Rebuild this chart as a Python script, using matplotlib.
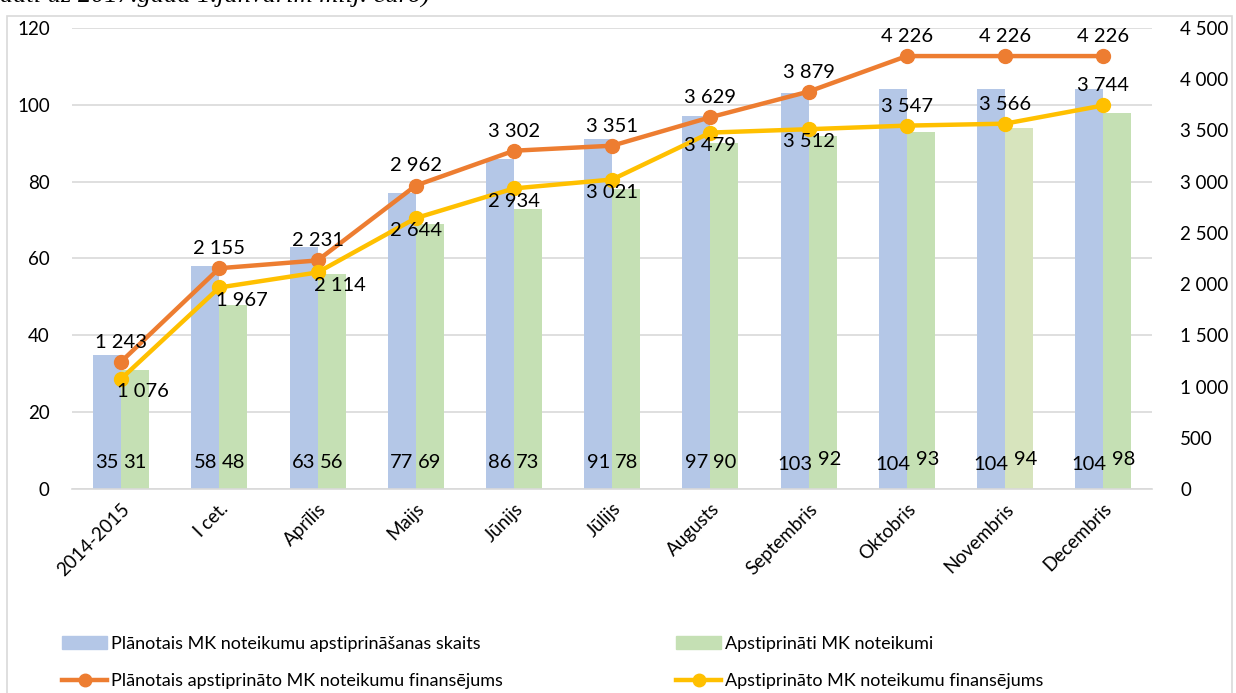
import matplotlib.pyplot as plt
import numpy as np
from matplotlib.patches import Rectangle
from matplotlib.lines import Line2D
from matplotlib.patches import Patch

plt.rcParams['font.family'] = ['Lato', 'DejaVu Sans']

categories = ['2014-2015', 'I cet.', 'Aprīlis', 'Maijs', 'Jūnijs', 'Jūlijs',
              'Augusts', 'Septembris', 'Oktobris', 'Novembris', 'Decembris']
planned_count = [35, 58, 63, 77, 86, 91, 97, 103, 104, 104, 104]
approved_count = [31, 48, 56, 69, 73, 78, 90, 92, 93, 94, 98]
planned_fin = [1243, 2155, 2231, 2962, 3302, 3351, 3629, 3879, 4226, 4226, 4226]
approved_fin = [1076, 1967, 2114, 2644, 2934, 3021, 3479, 3512, 3547, 3566, 3744]

blue = '#b4c7e7'
green = '#c5e0b4'
orange = '#ed7d31'
yellow = '#ffc000'


def fmt(v):
    return '{:,}'.format(int(v)).replace(',', ' ')


fig = plt.figure(figsize=(12.36, 6.93), dpi=100)
ax = fig.add_axes([0.0583, 0.2944, 0.874, 0.6652])
ax2 = ax.twinx()

# outer frame and the cut-off caption above it
fig.patches.append(Rectangle((0.006, -0.01), 0.991, 0.987, transform=fig.transFigure,
                             fill=False, edgecolor='#d9d9d9', linewidth=1.2))
fig.text(0.0, 1.005, 'dati uz 2017.gada 1.janvārim milj. euro)', fontsize=19,
         family='Liberation Serif', style='italic', va='center', ha='left')

x = np.arange(len(categories))
w = 0.285
green_cols = [green] * len(categories)
green_cols[9] = '#d7e4bd'
ax.bar(x - w / 2, planned_count, w, color=blue, zorder=2)
ax.bar(x + w / 2, approved_count, w, color=green_cols, zorder=2)

for i in range(len(categories)):
    big = planned_count[i] >= 100
    ax.text(x[i] - w / 2, 6.3 if big else 6.8, str(planned_count[i]),
            ha='center', va='center', fontsize=14.5)
    ax.text(x[i] + w / 2 + (0.07 if big else 0), 7.6 if big else 6.8, str(approved_count[i]),
            ha='center', va='center', fontsize=14.5)

ax.set_ylim(0, 120)
ax.set_yticks(range(0, 121, 20))
ax.set_xlim(-0.5, len(categories) - 0.5)
ax.set_xticks(x)
ax.set_xticklabels(categories, rotation=45, ha='right', rotation_mode='anchor', fontsize=13)
ax.grid(axis='y', color='#d9d9d9', linewidth=1.2, zorder=0)
ax.set_axisbelow(True)
for s in ['top', 'right', 'left']:
    ax.spines[s].set_visible(False)
ax.spines['bottom'].set_color('#d9d9d9')
ax.spines['bottom'].set_linewidth(1.2)
ax.tick_params(axis='both', length=0, labelsize=13.5)
ax.tick_params(axis='y', pad=16)
ax.tick_params(axis='x', pad=8)

ax2.plot(x, planned_fin, color=orange, linewidth=3.2, marker='o', markersize=10, zorder=3)
ax2.plot(x, approved_fin, color=yellow, linewidth=3.2, marker='o', markersize=10, zorder=3)
ax2.set_ylim(0, 4500)
ax2.set_yticks(range(0, 4501, 500))
ax2.set_yticklabels([fmt(v) for v in range(0, 4501, 500)])
ax2.tick_params(axis='y', length=0, labelsize=13.5, pad=20)
for s in ax2.spines.values():
    s.set_visible(False)

for i in range(len(categories)):
    ax2.annotate(fmt(planned_fin[i]), (x[i], planned_fin[i]), xytext=(0, 8),
                 textcoords='offset points', ha='center', va='bottom', fontsize=14.5)
    if i < 8:
        off = (16, -3) if i in (0, 1, 2) else (0, -3)
        ax2.annotate(fmt(approved_fin[i]), (x[i], approved_fin[i]), xytext=off,
                     textcoords='offset points', ha='center', va='top', fontsize=14.5)
    else:
        ax2.annotate(fmt(approved_fin[i]), (x[i], approved_fin[i]), xytext=(0, 8),
                     textcoords='offset points', ha='center', va='bottom', fontsize=14.5)

handles = [Patch(color=blue), Line2D([], [], color=orange, lw=3.2, marker='o', ms=9),
           Patch(color=green), Line2D([], [], color=yellow, lw=3.2, marker='o', ms=9)]
labels = ['Plānotais MK noteikumu apstiprināšanas skaits',
          'Plānotais apstiprināto MK noteikumu finansējums',
          'Apstiprināti MK noteikumi',
          'Apstiprināto MK noteikumu finansējums']
fig.legend(handles, labels, ncol=2, loc='lower left', bbox_to_anchor=(0.037, -0.018),
           frameon=False, fontsize=13, handlelength=2.5, handletextpad=0.2,
           columnspacing=9.6, labelspacing=1.2)

fig.savefig('out.png', dpi=100)
